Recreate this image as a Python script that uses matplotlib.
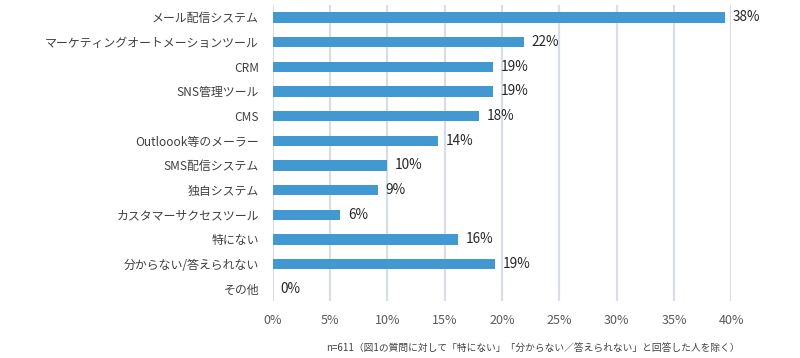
import numpy as np
import matplotlib.pyplot as plt

plt.rcParams['font.family'] = ['Noto Sans CJK JP', 'DejaVu Sans']

# 項目（上から順に）
categories = ['メール配信システム', 'マーケティングオートメーションツール', 'CRM', 'SNS管理ツール',
              'CMS', 'Outloook等のメーラー', 'SMS配信システム', '独自システム',
              'カスタマーサクセスツール', '特にない', '分からない/答えられない', 'その他']
# 棒の長さ（%）- 図から読み取り
values = [39.5, 21.9, 19.2, 19.2, 18.0, 14.4, 10.0, 9.2, 5.9, 16.2, 19.4, 0.0]
# 表示ラベル
value_labels = ['38%', '22%', '19%', '19%', '18%', '14%', '10%', '9%', '6%', '16%', '19%', '0%']
xticks = [0, 5, 10, 15, 20, 25, 30, 35, 40]

fig = plt.figure(figsize=(8, 3.58), dpi=100)
ax = fig.add_axes([0.341, 0.159, 0.573, 0.827])

y = np.arange(len(categories))
ax.barh(y, values, height=0.42, color='#4299d1', zorder=3)

for yi, v, lab in zip(y, values, value_labels):
    ax.text(v + 0.65, yi, lab, va='center', ha='left', fontsize=9.8, color='#262626')

ax.set_xlim(0, 40)
ax.set_ylim(len(categories) - 0.5, -0.5)
ax.set_xticks(xticks)
ax.set_xticklabels([f'{t}%' for t in xticks], color='#595959', fontsize=9)
ax.set_yticks(y)
ax.set_yticklabels(categories, color='#404040', fontsize=8.6)
ax.tick_params(axis='both', length=0)
ax.tick_params(axis='x', pad=9)
ax.tick_params(axis='y', pad=10)
ax.grid(axis='x', color='#d9dee5', linewidth=1.6, zorder=0)
for s in ax.spines.values():
    s.set_visible(False)

fig.text(0.666, 0.028, 'n=611（図1の質問に対して「特にない」「分からない／答えられない」と回答した人を除く）',
         ha='center', va='center', fontsize=7, color='#404040')

fig.savefig('out.png', dpi=100)
